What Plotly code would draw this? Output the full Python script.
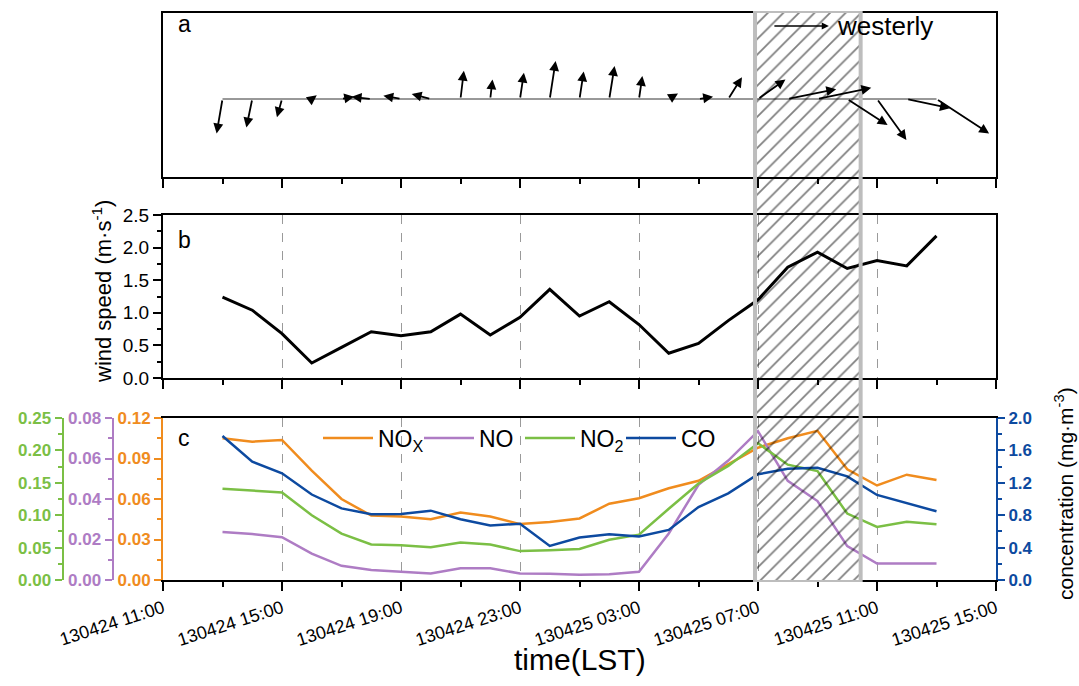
import plotly.graph_objects as go

W, H = 1079, 686

# ---------------- data ----------------
# hours after 2013-04-24 00:00 LST, hourly from 130424 13:00 to 130425 13:00
hour = list(range(13, 38))

wind_speed = [1.24, 1.04, 0.68, 0.23, 0.47, 0.71, 0.65, 0.71, 0.98, 0.66, 0.93, 1.36,
              0.95, 1.17, 0.82, 0.38, 0.53, 0.88, 1.20, 1.70, 1.93, 1.68, 1.80, 1.72, 2.18]
# wind vector components (m/s), eastward u and northward v
wind_u = [-0.21, -0.21, -0.18, 0.18, 0.45, -0.70, -0.63, -0.68, 0.12, 0.08, 0.14, 0.21,
          0.15, 0.19, 0.12, 0.33, 0.52, 0.49, 0.98, 1.73, 1.92, 1.44, 1.05, 1.54, 1.88]
wind_v = [-1.23, -1.02, -0.65, 0.13, 0.08, 0.08, 0.12, 0.18, 1.01, 0.70, 0.94, 1.36,
          0.98, 1.18, 0.82, 0.20, 0.08, 0.78, 0.70, 0.35, 0.40, -0.93, -1.46, -0.33, -1.23]

nox = [0.105, 0.1025, 0.1037, 0.081, 0.060, 0.0477, 0.047, 0.045, 0.050, 0.047, 0.0414,
       0.043, 0.0456, 0.0565, 0.0606, 0.068, 0.0735, 0.0856, 0.098, 0.105, 0.1105, 0.082,
       0.070, 0.078, 0.074]
no = [0.0237, 0.0227, 0.0211, 0.013, 0.007, 0.0049, 0.0041, 0.0032, 0.0058, 0.0058, 0.0032,
      0.0031, 0.0026, 0.0029, 0.0041, 0.023, 0.047, 0.059, 0.0735, 0.049, 0.039, 0.0167,
      0.0081, 0.0081, 0.0081]
no2 = [0.141, 0.1375, 0.135, 0.100, 0.0715, 0.0548, 0.0537, 0.0507, 0.058, 0.0548, 0.0446,
       0.046, 0.048, 0.062, 0.070, 0.110, 0.149, 0.176, 0.211, 0.178, 0.168, 0.1025,
       0.082, 0.090, 0.086]
co = [1.777, 1.46, 1.318, 1.055, 0.884, 0.811, 0.815, 0.856, 0.75, 0.673, 0.694,
      0.42, 0.525, 0.566, 0.537, 0.618, 0.90, 1.07, 1.305, 1.374, 1.386, 1.28,
      1.05, 0.95, 0.848]

tick_vals = [11, 15, 19, 23, 27, 31, 35, 39]
tick_text = ['130424 11:00', '130424 15:00', '130424 19:00', '130424 23:00',
             '130425 03:00', '130425 07:00', '130425 11:00', '130425 15:00']
minor_vals = [13, 17, 21, 25, 29, 33, 37]
highlight = [30.9, 34.45]          # hatched period (hours)
ref_speed = 2.0                    # reference vector (westerly)

# ---------------- layout geometry ----------------
FONT = 'Arial, Liberation Sans, sans-serif'
X0, X1 = 163, 996
xdom = [X0 / W, X1 / W]
def ydom(top, bot):
    return [1 - bot / H, 1 - top / H]
A_TOP, A_BOT, A_BASE = 13, 177, 99
dom_a = ydom(A_TOP, A_BOT)
dom_b = ydom(215, 378)
dom_c = ydom(418, 580)
XR = [11, 39]
PX_PER_MS = 28.0
px_per_hour = (X1 - X0) / (XR[1] - XR[0])
ya_range = [-(A_BOT - A_BASE) / PX_PER_MS, (A_BASE - A_TOP) / PX_PER_MS]
KX = PX_PER_MS / px_per_hour   # hours per m/s so vectors are isotropic

ORANGE = '#F08C1E'
PURPLE = '#AE7CC4'
GREEN = '#7BBF45'
BLUE = '#0D4AA0'

fig = go.Figure()

# ---- panel a baseline ----
fig.add_trace(go.Scatter(x=[hour[0], hour[-1]], y=[0, 0], mode='lines',
                         line=dict(color='#333333', width=1), showlegend=False,
                         hoverinfo='skip', xaxis='x', yaxis='y'))

# ---- panel b wind speed ----
fig.add_trace(go.Scatter(x=hour, y=wind_speed, mode='lines', line=dict(color='black', width=3),
                         showlegend=False, xaxis='x2', yaxis='y2'))

# ---- panel c ----
fig.add_trace(go.Scatter(x=hour, y=nox, mode='lines', name='NO<sub>X</sub>',
                         line=dict(color=ORANGE, width=2.5), xaxis='x3', yaxis='y3'))
fig.add_trace(go.Scatter(x=hour, y=no, mode='lines', name='NO',
                         line=dict(color=PURPLE, width=2.5), xaxis='x3', yaxis='y4'))
fig.add_trace(go.Scatter(x=hour, y=no2, mode='lines', name='NO<sub>2</sub>',
                         line=dict(color=GREEN, width=2.5), xaxis='x3', yaxis='y5'))
fig.add_trace(go.Scatter(x=hour, y=co, mode='lines', name='CO',
                         line=dict(color=BLUE, width=2.5), xaxis='x3', yaxis='y6'))

# ---- hatched highlight across all panels ----
fig.add_trace(go.Scatter(x=[highlight[0], highlight[1], highlight[1], highlight[0], highlight[0]],
                         y=[0, 0, 1, 1, 0], mode='lines', fill='toself',
                         fillcolor='rgba(0,0,0,0)',
                         fillpattern=dict(shape='/', fgcolor='black', bgcolor='rgba(0,0,0,0)',
                                          size=11, solidity=0.16),
                         line=dict(color='#BDBDBD', width=4), showlegend=False,
                         hoverinfo='skip', xaxis='x4', yaxis='y7'))

annotations = []
# wind vectors
for t, u, v in zip(hour, wind_u, wind_v):
    annotations.append(dict(x=t + u * KX, y=v, ax=t, ay=0, xref='x', yref='y',
                            axref='x', ayref='y', text='', showarrow=True,
                            arrowhead=2, arrowsize=1.1, arrowwidth=1.8, arrowcolor='black'))
# reference vector
ref_t = 31.5
ref_y = (A_BASE - 26) / PX_PER_MS
annotations.append(dict(x=ref_t + ref_speed * KX, y=ref_y, ax=ref_t, ay=ref_y, xref='x', yref='y',
                        axref='x', ayref='y', text='', showarrow=True,
                        arrowhead=2, arrowsize=1.1, arrowwidth=1.3, arrowcolor='black'))
annotations.append(dict(x=ref_t + ref_speed * KX + 0.2, y=ref_y, xref='x', yref='y',
                        text='westerly', showarrow=False, xanchor='left', yanchor='middle',
                        font=dict(family=FONT, size=26, color='black')))
# panel letters
for letter, ypx in [('a', 24), ('b', 240), ('c', 438)]:
    annotations.append(dict(x=176 / W, y=1 - ypx / H, xref='paper', yref='paper', text=letter,
                            showarrow=False, xanchor='left', yanchor='middle',
                            font=dict(family=FONT, size=23, color='black')))
# axis titles
annotations.append(dict(x=102 / W, y=1 - 292 / H, xref='paper', yref='paper',
                        text='wind speed (m·s<sup>-1</sup>)', textangle=-90, showarrow=False,
                        xanchor='center', yanchor='middle',
                        font=dict(family=FONT, size=22, color='black')))
annotations.append(dict(x=1064 / W, y=1 - 494 / H, xref='paper', yref='paper',
                        text='concentration (mg·m<sup>-3</sup>)', textangle=-90, showarrow=False,
                        xanchor='center', yanchor='middle',
                        font=dict(family=FONT, size=21, color='black')))
annotations.append(dict(x=(X0 + X1) / 2 / W, y=1 - 659 / H, xref='paper', yref='paper',
                        text='time(LST)', showarrow=False, xanchor='center', yanchor='middle',
                        font=dict(family=FONT, size=30, color='black')))

def xaxis_common(labels, grid):
    return dict(domain=xdom, range=XR, tickmode='array', tickvals=tick_vals, ticktext=tick_text,
                showticklabels=labels, ticks='outside', ticklen=9, tickwidth=2, tickcolor='black',
                minor=dict(tickmode='array', tickvals=minor_vals, ticks='outside', ticklen=5,
                           tickwidth=2, tickcolor='black', showgrid=False),
                showline=True, linecolor='black', linewidth=2, mirror=True,
                showgrid=grid, gridcolor='#9a9a9a', griddash='dash', gridwidth=1,
                zeroline=False, automargin=False, tickangle=-18,
                tickfont=dict(family=FONT, size=18, color='black'))

def side_axis(color, rng, dtick, minor, fmt, **kw):
    d = dict(range=rng, tickmode='linear', tick0=0, dtick=dtick, tickformat=fmt,
             ticks='outside', ticklen=7, tickwidth=2, tickcolor=color,
             minor=dict(dtick=minor, tick0=0, ticks='outside', ticklen=4, tickwidth=2,
                        tickcolor=color, showgrid=False),
             showline=True, linecolor=color, linewidth=2, showgrid=False, zeroline=False,
             automargin=False,
             tickfont=dict(family=FONT, size=17, color=color, weight='bold'))
    d.update(kw)
    return d

fig.update_layout(
    width=W, height=H, margin=dict(l=0, r=0, t=0, b=0),
    paper_bgcolor='white', plot_bgcolor='rgba(0,0,0,0)',
    font=dict(family=FONT, color='black'),
    showlegend=True,
    legend=dict(orientation='h', x=318 / W, y=1 - 438 / H, xanchor='left', yanchor='middle',
                bgcolor='rgba(0,0,0,0)', font=dict(family=FONT, size=23, color='black'),
                itemwidth=50, entrywidth=36, entrywidthmode='pixels', tracegroupgap=0),
    xaxis=xaxis_common(False, False) | dict(anchor='y'),
    yaxis=dict(domain=dom_a, range=ya_range, showticklabels=False, ticks='', showgrid=False,
               zeroline=False, showline=True, linecolor='black', linewidth=2, mirror=True,
               automargin=False, anchor='x'),
    xaxis2=xaxis_common(False, True) | dict(anchor='y2'),
    yaxis2=dict(domain=dom_b, range=[0, 2.5], tickmode='linear', tick0=0, dtick=0.5,
                tickformat='.1f', ticks='outside', ticklen=8, tickwidth=2, tickcolor='black',
                minor=dict(dtick=0.25, tick0=0, ticks='outside', ticklen=4, tickwidth=2,
                           tickcolor='black', showgrid=False),
                showline=True, linecolor='black', linewidth=2, mirror=True, showgrid=False,
                zeroline=False, automargin=False, anchor='x2',
                tickfont=dict(family=FONT, size=19, color='black')),
    xaxis3=xaxis_common(True, True) | dict(anchor='y3'),
    yaxis3=side_axis(ORANGE, [0, 0.12], 0.03, 0.015, '.2f', domain=dom_c, anchor='x3', side='left'),
    yaxis4=side_axis(PURPLE, [0, 0.08], 0.02, 0.01, '.2f', overlaying='y3', anchor='free',
                     position=112.5 / W, side='left'),
    yaxis5=side_axis(GREEN, [0, 0.25], 0.05, 0.025, '.2f', overlaying='y3', anchor='free',
                     position=62.5 / W, side='left'),
    yaxis6=side_axis(BLUE, [0, 2.0], 0.4, 0.2, '.1f', overlaying='y3', anchor='x3', side='right'),
    xaxis4=dict(domain=xdom, range=XR, visible=False, anchor='y7', fixedrange=True),
    yaxis7=dict(domain=ydom(11, 582), range=[0, 1], visible=False, anchor='x4', fixedrange=True),
    annotations=annotations,
)

fig.write_html('out.html')
